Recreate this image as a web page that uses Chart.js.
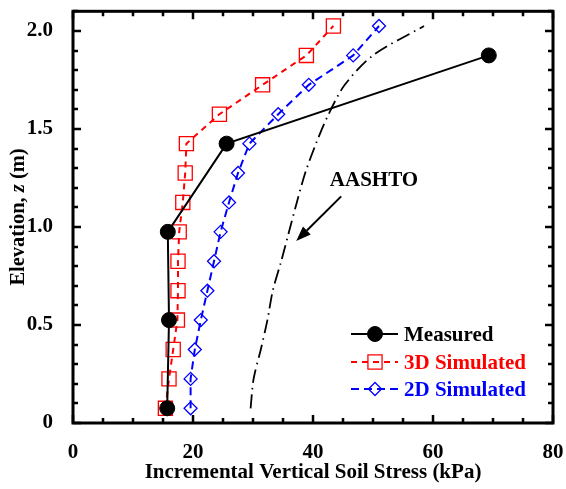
<!DOCTYPE html>
<html><head><meta charset="utf-8">
<script src="https://cdn.jsdelivr.net/npm/chart.js@4/dist/chart.umd.min.js"></script>
<style>html,body{margin:0;padding:0;background:#fff;}canvas{display:block}</style>
</head><body>
<canvas id="c" width="566" height="489"></canvas>
<script>
// ---- data ----
const elevMeasured   = [0.075, 0.525, 0.975, 1.425, 1.875];
const stressMeasured = [15.7, 16.0, 15.8, 25.6, 69.3];
const elevSim  = [0.075, 0.225, 0.375, 0.525, 0.675, 0.825, 0.975, 1.125, 1.275, 1.425, 1.575, 1.725, 1.875, 2.025];
const stress3D = [15.4, 16.0, 16.7, 17.4, 17.5, 17.5, 17.7, 18.3, 18.7, 18.9, 24.4, 31.6, 38.9, 43.4];
const stress2D = [19.6, 19.6, 20.3, 21.3, 22.4, 23.5, 24.6, 26.0, 27.5, 29.4, 34.2, 39.3, 46.7, 51.0];
const stressAASHTO = [29.6, 30.1, 31.3, 32.4, 33.3, 34.7, 36.0, 37.3, 38.7, 40.5, 42.6, 45.3, 50.0, 58.5];
const xTicks = [0, 20, 40, 60, 80];
const yTicks = [0, 0.5, 1.0, 1.5, 2.0];
const seriesNames = ['Measured', '3D Simulated', '2D Simulated'];
const aashtoLabel = 'AASHTO';
const xTitle = 'Incremental Vertical Soil Stress (kPa)';
const yTitleParts = [['Elevation, ', false], ['z', true], [' (m)', false]];

const FONT = "'Liberation Serif','Times New Roman',serif";
const pairs = (xs, ys) => xs.map((v, i) => ({x: v, y: ys[i]}));

const RED = '#ff0000', BLUE = '#0000ff';

const decor = {
  id: 'decor',
  afterDatasetsDraw(chart) {
    const ctx = chart.ctx, a = chart.chartArea;
    const xs = chart.scales.x, ys = chart.scales.y;
    ctx.save();
    // ticks, inward on all four sides
    ctx.strokeStyle = '#000';
    ctx.lineWidth = 2.5;
    ctx.beginPath();
    for (let v = 0; v <= 80; v += 5) {
      const px = Math.round(xs.getPixelForValue(v));
      const L = (v % 20 === 0) ? 8 : 5;
      ctx.moveTo(px, a.bottom); ctx.lineTo(px, a.bottom - L);
      ctx.moveTo(px, a.top); ctx.lineTo(px, a.top + L);
    }
    for (let i = 0; i <= 21; i++) {
      const v = i / 10;
      const py = Math.round(ys.getPixelForValue(v));
      const L = (i % 5 === 0) ? 8 : 5;
      ctx.moveTo(a.left, py); ctx.lineTo(a.left + L, py);
      ctx.moveTo(a.right, py); ctx.lineTo(a.right - L, py);
    }
    ctx.stroke();
    // frame
    ctx.lineWidth = 3;
    ctx.strokeRect(a.left, a.top, a.right - a.left, a.bottom - a.top);

    // x title
    ctx.fillStyle = '#000';
    ctx.font = 'bold 21px ' + FONT;
    ctx.textAlign = 'center';
    ctx.textBaseline = 'alphabetic';
    ctx.fillText(xTitle, (a.left + a.right) / 2, 478);

    // y title (with italic z)
    ctx.save();
    ctx.translate(24, 217);
    ctx.rotate(-Math.PI / 2);
    let total = 0;
    const widths = yTitleParts.map(([t, it]) => {
      ctx.font = (it ? 'italic ' : '') + 'bold 20.5px ' + FONT;
      const w = ctx.measureText(t).width; total += w; return w;
    });
    let cx = -total / 2;
    ctx.textAlign = 'left';
    yTitleParts.forEach(([t, it], i) => {
      ctx.font = (it ? 'italic ' : '') + 'bold 20.5px ' + FONT;
      ctx.fillText(t, cx, 0);
      cx += widths[i];
    });
    ctx.restore();

    // AASHTO annotation + arrow
    ctx.font = 'bold 21px ' + FONT;
    ctx.textAlign = 'left';
    ctx.fillText(aashtoLabel, xs.getPixelForValue(42.8), ys.getPixelForValue(1.207));
    const x0 = xs.getPixelForValue(44.7), y0 = ys.getPixelForValue(1.156);
    const x1 = xs.getPixelForValue(37.2), y1 = ys.getPixelForValue(0.928);
    const ang = Math.atan2(y1 - y0, x1 - x0);
    const hl = 15, hw = 5.5;
    const bx = x1 - hl * Math.cos(ang), by = y1 - hl * Math.sin(ang);
    ctx.lineWidth = 2;
    ctx.beginPath(); ctx.moveTo(x0, y0); ctx.lineTo(bx, by); ctx.stroke();
    ctx.beginPath();
    ctx.moveTo(x1, y1);
    ctx.lineTo(bx + hw * Math.sin(ang), by - hw * Math.cos(ang));
    ctx.lineTo(bx - hw * Math.sin(ang), by + hw * Math.cos(ang));
    ctx.closePath(); ctx.fill();

    // legend
    const lx0 = 351, lx1 = 398, mx = 375, tx = 404;
    const rows = [334, 362, 389];
    const ds = chart.data.datasets;
    for (let i = 0; i < 3; i++) {
      const d = ds[i], y = rows[i];
      ctx.strokeStyle = d.borderColor;
      ctx.lineWidth = d.borderWidth;
      ctx.setLineDash(d.borderDash || []);
      ctx.beginPath(); ctx.moveTo(lx0, y); ctx.lineTo(lx1, y); ctx.stroke();
      ctx.setLineDash([]);
      ctx.lineWidth = d.pointBorderWidth;
      ctx.strokeStyle = d.pointBorderColor;
      ctx.fillStyle = d.pointBackgroundColor;
      Chart.helpers.drawPoint(ctx, {pointStyle: d.pointStyle, radius: d.pointRadius, rotation: 0, borderWidth: d.pointBorderWidth}, mx, y);
      ctx.fillStyle = d.borderColor === '#000000' ? '#000' : d.borderColor;
      ctx.font = 'bold 21px ' + FONT;
      ctx.textAlign = 'left';
      ctx.fillText(seriesNames[i], tx, y + 7);
    }
    ctx.restore();
  }
};

const noPad = s => { s.paddingTop = 0; s.paddingBottom = 0; s.paddingLeft = 0; s.paddingRight = 0; };

new Chart(document.getElementById('c'), {
  type: 'scatter',
  data: {
    datasets: [
      { label: seriesNames[0], data: pairs(stressMeasured, elevMeasured), showLine: true,
        borderColor: '#000000', borderWidth: 2, pointStyle: 'circle', pointRadius: 7.5,
        pointBackgroundColor: '#000', pointBorderColor: '#000', pointBorderWidth: 1, order: 1 },
      { label: seriesNames[1], data: pairs(stress3D, elevSim), showLine: true,
        borderColor: RED, borderWidth: 2, borderDash: [6, 5], pointStyle: 'rect', pointRadius: 10,
        pointBackgroundColor: 'rgba(0,0,0,0)', pointBorderColor: RED, pointBorderWidth: 1.3, order: 2 },
      { label: seriesNames[2], data: pairs(stress2D, elevSim), showLine: true,
        borderColor: BLUE, borderWidth: 2, borderDash: [8, 5], pointStyle: 'rectRot', pointRadius: 6.5,
        pointBackgroundColor: 'rgba(0,0,0,0)', pointBorderColor: BLUE, pointBorderWidth: 1.3, order: 3 },
      { label: aashtoLabel, data: pairs(stressAASHTO, elevSim), showLine: true,
        borderColor: '#000', borderWidth: 1.8, borderDash: [14, 5, 1.5, 5], pointRadius: 0,
        tension: 0.3, order: 4 }
    ]
  },
  options: {
    responsive: false, animation: false, devicePixelRatio: 1,
    layout: { padding: { top: 7, right: 13, left: 0, bottom: 0 } },
    plugins: { legend: { display: false }, tooltip: { enabled: false } },
    scales: {
      x: { type: 'linear', min: 0, max: 80,
        afterBuildTicks: s => { s.ticks = xTicks.map(v => ({value: v})); },
        afterFit: s => { s.height = 66; noPad(s); },
        grid: { display: false }, border: { display: false },
        ticks: { color: '#000', font: { family: FONT, size: 21, weight: 'bold' }, padding: 9, maxRotation: 0,
          callback: v => String(v) } },
      y: { type: 'linear', min: 0, max: 2.1,
        afterBuildTicks: s => { s.ticks = yTicks.map(v => ({value: v})); },
        afterFit: s => { s.width = 73; noPad(s); },
        grid: { display: false }, border: { display: false },
        ticks: { color: '#000', font: { family: FONT, size: 21, weight: 'bold' }, padding: 12,
          callback: v => v === 0 ? '0' : Number(v).toFixed(1) } }
    }
  },
  plugins: [decor]
});
</script>
</body></html>
